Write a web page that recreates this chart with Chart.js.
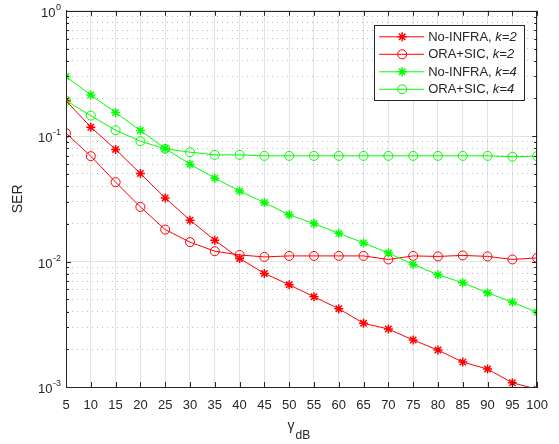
<!DOCTYPE html>
<html>
<head>
<meta charset="utf-8">
<script src="https://cdn.jsdelivr.net/npm/chart.js@4.4.1/dist/chart.umd.min.js"></script>
<style>
    html, body { margin: 0; padding: 0; background: #fff; }
    #contenedor { width: 559px; height: 444px; }
</style>
</head>
<body>
<div id="contenedor"><canvas id="graficoSER"></canvas></div>
<script>
// Datos
const gammaDb = [5, 10, 15, 20, 25, 30, 35, 40, 45, 50, 55, 60, 65, 70, 75, 80, 85, 90, 95, 100];

const serNoInfraK2 = [0.192, 0.118, 0.0784, 0.0504, 0.0322, 0.0214, 0.0148, 0.0106, 0.00805, 0.00653,
    0.00524, 0.00421, 0.00322, 0.0029, 0.00237, 0.00197, 0.00158, 0.00139, 0.00108, 0.00096];
const serOraSicK2 = [0.1057, 0.0693, 0.043, 0.0273, 0.018, 0.0143, 0.0121, 0.0113, 0.0109, 0.0111,
    0.0111, 0.0111, 0.0111, 0.0104, 0.0111, 0.0110, 0.0112, 0.0110, 0.0104, 0.0107];
const serNoInfraK4 = [0.299, 0.213, 0.1545, 0.111, 0.0798, 0.0598, 0.0463, 0.0365, 0.0296, 0.0236,
    0.0201, 0.0168, 0.0141, 0.0117, 0.0095, 0.00785, 0.00678, 0.00564, 0.00475, 0.00394];
const serOraSicK4 = [0.192, 0.146, 0.1116, 0.0912, 0.0793, 0.0746, 0.071, 0.071, 0.0697, 0.0697,
    0.0697, 0.0697, 0.0697, 0.0697, 0.0697, 0.0697, 0.0697, 0.0697, 0.0686, 0.0693];

const nombresSeries = ['No-INFRA', 'ORA+SIC', 'No-INFRA', 'ORA+SIC'];
const valoresK = ['k=2', 'k=2', 'k=4', 'k=4'];

// Ticks del eje Y (décadas) y sus etiquetas
const decadasY = [0.001, 0.01, 0.1, 1];
const exponentesY = ['-3', '-2', '-1', '0'];

const FUENTE = '"Liberation Sans", Arial, sans-serif';
const GRIS_TEXTO = '#262626';

function puntos(valores) {
    return gammaDb.map((g, i) => ({ x: g, y: valores[i] }));
}

function serie(i, valores, color, estilo) {
    return {
        label: nombresSeries[i] + ', ' + valoresK[i],
        data: puntos(valores),
        borderColor: color,
        backgroundColor: color,
        pointBorderColor: color,
        pointBackgroundColor: 'rgba(0,0,0,0)',
        pointStyle: estilo,
        pointRadius: 4.5,
        pointBorderWidth: estilo === 'star' ? 1.5 : 1,
        borderWidth: 1,
        fill: false,
        tension: 0,
        order: 4 - i
    };
}

// Caja, ticks interiores, etiquetas del eje Y, título X y leyenda estilo MATLAB
const pluginMatlab = {
    id: 'estiloMatlab',
    afterDraw(chart) {
        const ctx = chart.ctx;
        const { left, right, top, bottom } = chart.chartArea;
        const escX = chart.scales.x;
        const escY = chart.scales.y;

        ctx.save();
        ctx.strokeStyle = GRIS_TEXTO;
        ctx.lineWidth = 1;

        // ticks interiores
        ctx.beginPath();
        gammaDb.forEach(g => {
            const px = Math.round(escX.getPixelForValue(g)) + 0.5;
            ctx.moveTo(px, bottom); ctx.lineTo(px, bottom - 5);
            ctx.moveTo(px, top); ctx.lineTo(px, top + 5);
        });
        escY.ticks.forEach(t => {
            const py = Math.round(escY.getPixelForValue(t.value)) + 0.5;
            const largo = t.major ? 5 : 3;
            ctx.moveTo(left, py); ctx.lineTo(left + largo, py);
            ctx.moveTo(right, py); ctx.lineTo(right - largo, py);
        });
        ctx.stroke();

        // caja
        ctx.strokeRect(Math.round(left) + 0.5, Math.round(top) + 0.5,
            Math.round(right - left) - 1, Math.round(bottom - top));

        // etiquetas del eje Y: 10 con exponente
        ctx.fillStyle = GRIS_TEXTO;
        ctx.textBaseline = 'alphabetic';
        decadasY.forEach((v, i) => {
            const py = escY.getPixelForValue(v);
            const xDer = left - 5;
            ctx.font = '9px ' + FUENTE;
            ctx.textAlign = 'right';
            const anchoExp = ctx.measureText(exponentesY[i]).width;
            ctx.fillText(exponentesY[i], xDer, py - 1);
            ctx.font = '13px ' + FUENTE;
            ctx.fillText('10', xDer - anchoExp - 0.5, py + 6);
        });

        // título eje X: gamma con subíndice dB
        const cx = (left + right) / 2;
        ctx.textAlign = 'left';
        ctx.font = '14px ' + FUENTE;
        ctx.fillText('γ', cx - 14, 430);
        ctx.font = '12px ' + FUENTE;
        ctx.fillText('dB', cx - 6, 439);

        // leyenda
        const cajaX = right - 163, cajaY = top + 14, cajaW = 150, cajaH = 75;
        ctx.fillStyle = '#ffffff';
        ctx.fillRect(cajaX, cajaY, cajaW, cajaH);
        ctx.strokeStyle = GRIS_TEXTO;
        ctx.strokeRect(Math.round(cajaX) + 0.5, Math.round(cajaY) + 0.5, cajaW, cajaH);

        chart.data.datasets.forEach((ds, i) => {
            const fy = cajaY + 12 + i * 17.5;
            ctx.strokeStyle = ds.borderColor;
            ctx.lineWidth = 1;
            ctx.beginPath();
            ctx.moveTo(cajaX + 5, fy);
            ctx.lineTo(cajaX + 50, fy);
            ctx.stroke();
            ctx.lineWidth = ds.pointBorderWidth;
            ctx.fillStyle = 'rgba(0,0,0,0)';
            Chart.helpers.drawPoint(ctx, {
                pointStyle: ds.pointStyle,
                radius: ds.pointRadius,
                borderWidth: ds.pointBorderWidth,
                rotation: 0
            }, cajaX + 28, fy);

            ctx.fillStyle = GRIS_TEXTO;
            ctx.textAlign = 'left';
            ctx.textBaseline = 'middle';
            ctx.font = '13px ' + FUENTE;
            const texto = nombresSeries[i] + ', ';
            ctx.fillText(texto, cajaX + 54, fy + 0.5);
            const ancho = ctx.measureText(texto).width;
            ctx.font = 'italic 13px ' + FUENTE;
            ctx.fillText(valoresK[i], cajaX + 54 + ancho, fy + 0.5);
        });
        ctx.restore();
    }
};

const ctxGrafico = document.getElementById('graficoSER');

new Chart(ctxGrafico, {
    type: 'line',
    data: {
        datasets: [
            serie(0, serNoInfraK2, '#ff0000', 'star'),
            serie(1, serOraSicK2, '#ff0000', 'circle'),
            serie(2, serNoInfraK4, '#00ff00', 'star'),
            serie(3, serOraSicK4, '#00ff00', 'circle')
        ]
    },
    options: {
        responsive: true,
        maintainAspectRatio: false,
        animation: false,
        devicePixelRatio: 1,
        layout: { padding: { left: 0, right: 8, top: 9, bottom: 0 } },
        plugins: {
            legend: { display: false },
            tooltip: { enabled: false }
        },
        scales: {
            x: {
                type: 'linear',
                min: 5,
                max: 100,
                afterFit: (escala) => { escala.height = 57; },
                afterBuildTicks: (escala) => {
                    escala.ticks = gammaDb.map(v => ({ value: v }));
                },
                ticks: {
                    autoSkip: false,
                    maxRotation: 0,
                    padding: 11,
                    color: GRIS_TEXTO,
                    font: { family: FUENTE, size: 13 }
                },
                grid: {
                    color: '#e3e3e3',
                    drawTicks: false
                },
                border: { color: GRIS_TEXTO, width: 1 }
            },
            y: {
                type: 'logarithmic',
                min: 0.001,
                max: 1,
                afterFit: (escala) => { escala.width = 66; },
                afterBuildTicks: (escala) => {
                    const ticks = [];
                    decadasY.forEach((d, i) => {
                        ticks.push({ value: d, major: true });
                        if (i < decadasY.length - 1) {
                            for (let m = 2; m <= 9; m++) ticks.push({ value: d * m, major: false });
                        }
                    });
                    escala.ticks = ticks;
                },
                ticks: {
                    autoSkip: false,
                    callback: () => '',
                    font: { family: FUENTE, size: 13 }
                },
                grid: {
                    color: (c) => (c.tick && !c.tick.major) ? '#bdbdbd' : '#e3e3e3',
                    drawTicks: false
                },
                border: {
                    color: GRIS_TEXTO,
                    width: 1,
                    dash: (c) => (c.tick && !c.tick.major) ? [1, 4] : []
                },
                title: {
                    display: true,
                    text: 'SER',
                    color: GRIS_TEXTO,
                    font: { family: FUENTE, size: 14 },
                    padding: { top: 10, bottom: 0 }
                }
            }
        }
    },
    plugins: [pluginMatlab]
});
</script>
</body>
</html>
